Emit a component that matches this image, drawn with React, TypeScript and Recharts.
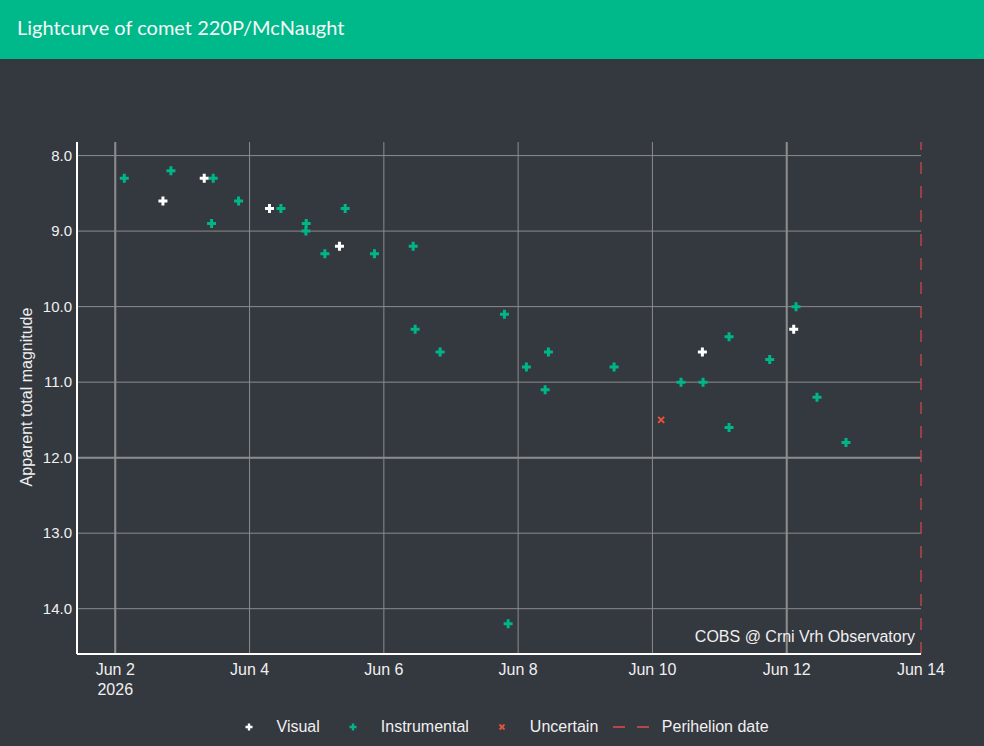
import React from "react";
import {
  ScatterChart,
  Scatter,
  XAxis,
  YAxis,
  CartesianGrid,
  ReferenceLine,
} from "recharts";

// observation time as fractional day of June 2026 (UT), magnitude
const visualDays = [2.71, 3.325, 4.297, 5.339, 10.744, 12.104];
const visualMags = [8.6, 8.3, 8.7, 9.2, 10.6, 10.3];

const instrumentalDays = [
  2.134, 2.829, 3.459, 3.434, 3.836, 4.467, 4.844, 4.839, 5.122, 5.424,
  5.86, 6.437, 6.466, 6.838, 7.796, 7.851, 8.123, 8.402, 8.451, 9.429,
  10.426, 10.754, 11.141, 11.141, 11.747, 12.139, 12.451, 12.883,
];
const instrumentalMags = [
  8.3, 8.2, 8.3, 8.9, 8.6, 8.7, 8.9, 9.0, 9.3, 8.7,
  9.3, 9.2, 10.3, 10.6, 10.1, 14.2, 10.8, 11.1, 10.6, 10.8,
  11.0, 11.0, 10.4, 11.6, 10.7, 10.0, 11.2, 11.8,
];

const uncertainDays = [10.13];
const uncertainMags = [11.5];

const perihelionDay = 14;
const xTicks = [2, 4, 6, 8, 10, 12, 14];
const yTicks = [8, 9, 10, 11, 12, 13, 14];
const monthLabel = "Jun";
const yearLabel = "2026";

const title = "Lightcurve of comet 220P/McNaught";
const yTitle = "Apparent total magnitude";
const credit = "COBS @ Crni Vrh Observatory";
const legendLabels = ["Visual", "Instrumental", "Uncertain", "Perihelion date"];

const BG = "#34383f";
const HEADER = "#00b98b";
const GRID = "#8c8c8c";
const TEXT = "#f0f0f0";
const VISUAL = "#ffffff";
const INSTR = "#00b587";
const UNCERTAIN = "#e5533d";
const PERI = "#b5474b";
const FONT = "'Liberation Sans', Arial, sans-serif";

const toPoints = (days: number[], mags: number[]) =>
  days.map((day, i) => ({ day, mag: mags[i] }));

const visualPoints = toPoints(visualDays, visualMags);
const instrumentalPoints = toPoints(instrumentalDays, instrumentalMags);
const uncertainPoints = toPoints(uncertainDays, uncertainMags);

function plusPath(cx: number, cy: number, a: number, t: number) {
  return `M${cx - t},${cy - a}h${2 * t}v${a - t}h${a - t}v${2 * t}h${-(a - t)}v${a - t}h${-2 * t}v${-(a - t)}h${-(a - t)}v${-2 * t}h${a - t}z`;
}

function PlusMark(props: any) {
  const { cx, cy, fill } = props;
  if (cx == null || cy == null) return null;
  return <path d={plusPath(cx, cy, 4.5, 1.5)} fill={fill} />;
}

function CrossMark(props: any) {
  const { cx, cy, fill } = props;
  if (cx == null || cy == null) return null;
  const a = 3;
  return (
    <g stroke={fill} strokeWidth={2}>
      <line x1={cx - a} y1={cy - a} x2={cx + a} y2={cy + a} />
      <line x1={cx - a} y1={cy + a} x2={cx + a} y2={cy - a} />
    </g>
  );
}

function DateTick(props: any) {
  const { x, y, payload } = props;
  const day = payload.value;
  return (
    <text x={x} y={y} textAnchor="middle" fill={TEXT} fontSize={16} fontFamily={FONT}>
      <tspan x={x} dy="0.71em">{`${monthLabel} ${day}`}</tspan>
      {day === xTicks[0] && (
        <tspan x={x} dy={20}>
          {yearLabel}
        </tspan>
      )}
    </text>
  );
}

function LegendIcon({ kind }: { kind: number }) {
  return (
    <svg width={40} height={20} style={{ display: "block" }}>
      {kind === 0 && <path d={plusPath(20, 10, 3.5, 1.2)} fill={VISUAL} />}
      {kind === 1 && <path d={plusPath(20, 10, 3.5, 1.2)} fill={INSTR} />}
      {kind === 2 && (
        <g stroke={UNCERTAIN} strokeWidth={1.8}>
          <line x1={17.5} y1={7.5} x2={22.5} y2={12.5} />
          <line x1={17.5} y1={12.5} x2={22.5} y2={7.5} />
        </g>
      )}
      {kind === 3 && (
        <line x1={1} y1={10} x2={39} y2={10} stroke={PERI} strokeWidth={2} strokeDasharray="12 12" />
      )}
    </svg>
  );
}

export default function App() {
  return (
    <div
      style={{
        position: "absolute",
        left: 0,
        top: 0,
        width: 984,
        height: 746,
        background: BG,
        overflow: "hidden",
        fontFamily: FONT,
      }}
    >
      <ScatterChart
        width={984}
        height={746}
        margin={{ top: 142, right: 63, bottom: 42, left: 17 }}
        style={{ position: "absolute", left: 0, top: 0 }}
      >
        <CartesianGrid
          stroke={GRID}
          strokeWidth={1}
          verticalValues={xTicks.filter((t) => t !== perihelionDay)}
          horizontalValues={yTicks}
        />
        <ReferenceLine x={2} stroke={GRID} strokeWidth={2} />
        <ReferenceLine x={12} stroke={GRID} strokeWidth={2} />
        <ReferenceLine y={12} stroke={GRID} strokeWidth={2} />
        <XAxis
          type="number"
          dataKey="day"
          domain={[1.43, 14]}
          ticks={xTicks}
          allowDataOverflow
          height={50}
          axisLine={{ stroke: "#ffffff", strokeWidth: 2 }}
          tickLine={false}
          tickSize={0}
          tickMargin={10}
          tick={<DateTick />}
          interval={0}
        />
        <YAxis
          type="number"
          dataKey="mag"
          reversed
          domain={[7.82, 14.6]}
          ticks={yTicks}
          allowDataOverflow
          width={60}
          axisLine={{ stroke: "#ffffff", strokeWidth: 2 }}
          tickLine={false}
          tickSize={0}
          tickMargin={5}
          interval={0}
          tickFormatter={(v: number) => v.toFixed(1)}
          tick={{ fill: TEXT, fontSize: 15, fontFamily: FONT }}
        />
        <ReferenceLine
          x={perihelionDay}
          stroke={PERI}
          strokeWidth={1.5}
          strokeDasharray="12 12"
        />
        <Scatter
          name={legendLabels[0]}
          data={visualPoints}
          fill={VISUAL}
          shape={(p: any) => <PlusMark {...p} />}
          isAnimationActive={false}
        />
        <Scatter
          name={legendLabels[1]}
          data={instrumentalPoints}
          fill={INSTR}
          shape={(p: any) => <PlusMark {...p} />}
          isAnimationActive={false}
        />
        <Scatter
          name={legendLabels[2]}
          data={uncertainPoints}
          fill={UNCERTAIN}
          shape={(p: any) => <CrossMark {...p} />}
          isAnimationActive={false}
        />
      </ScatterChart>

      <div
        style={{
          position: "absolute",
          left: 0,
          top: 0,
          width: 984,
          height: 59,
          background: HEADER,
        }}
      >
        <div
          style={{
            position: "absolute",
            left: 17,
            top: 15,
            lineHeight: "24px",
            fontSize: 20,
            fontFamily: "Lato, 'Open Sans', sans-serif",
            color: "#f7f7f7",
            whiteSpace: "nowrap",
          }}
        >
          {title}
        </div>
      </div>

      <div
        style={{
          position: "absolute",
          left: 27,
          top: 397,
          transform: "translate(-50%, -50%) rotate(-90deg)",
          whiteSpace: "nowrap",
          fontSize: 16,
          lineHeight: "18px",
          color: TEXT,
        }}
      >
        {yTitle}
      </div>

      <div
        style={{
          position: "absolute",
          right: 69,
          top: 629,
          fontSize: 16,
          lineHeight: "16px",
          color: TEXT,
          whiteSpace: "nowrap",
        }}
      >
        {credit}
      </div>

      <div
        style={{
          position: "absolute",
          left: 229,
          top: 717,
          height: 20,
          display: "flex",
          alignItems: "center",
          fontSize: 16,
          lineHeight: "20px",
          color: TEXT,
          whiteSpace: "nowrap",
        }}
      >
        {legendLabels.map((label, i) => (
          <div
            key={label}
            style={{ display: "flex", alignItems: "center", marginRight: 13.5 }}
          >
            <LegendIcon kind={i} />
            <span style={{ marginLeft: i === 3 ? 10 : 7.5 }}>{label}</span>
          </div>
        ))}
      </div>
    </div>
  );
}
